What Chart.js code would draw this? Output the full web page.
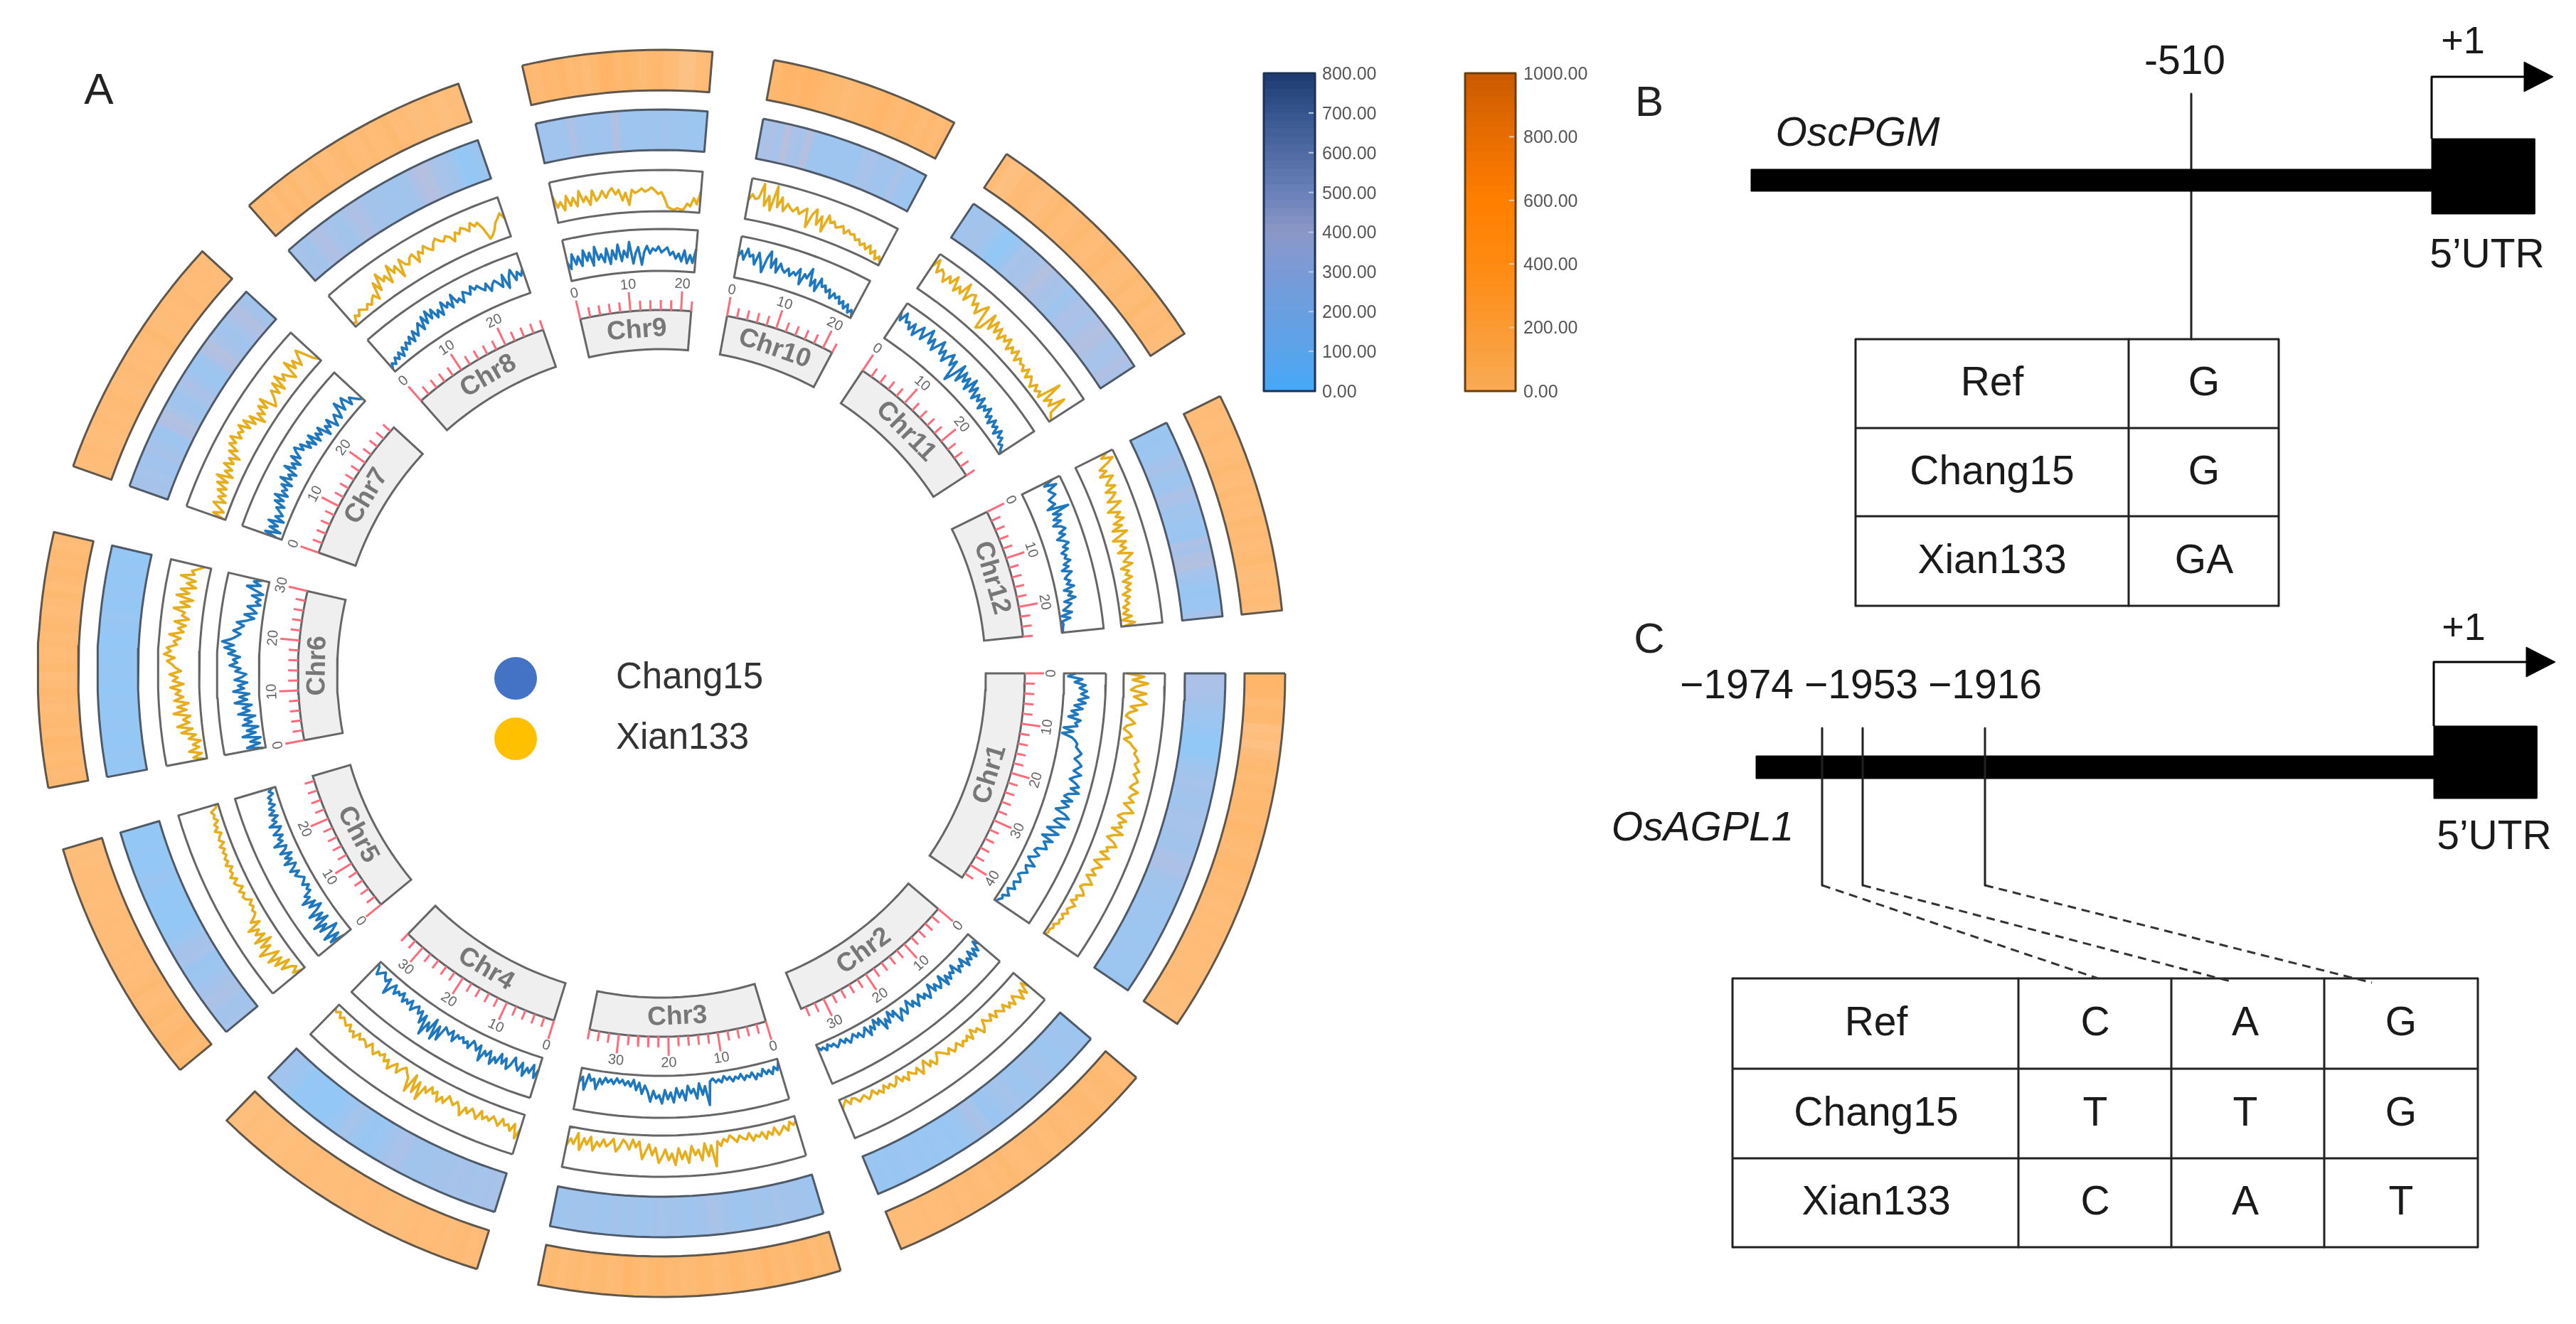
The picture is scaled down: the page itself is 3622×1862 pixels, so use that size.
<!DOCTYPE html>
<html>
<head>
<meta charset="utf-8">
<title>Circos plot and promoter variants</title>
<style>
  html, body { margin: 0; padding: 0; background: #fff; }
  canvas { display: block; }
</style>
<script src="https://cdn.jsdelivr.net/npm/chart.js@4/dist/chart.umd.min.js"></script>
</head>
<body>
<canvas id="figure" width="3622" height="1862"></canvas>
<script>
// chromosomes
const chromNames = ["Chr1","Chr2","Chr3","Chr4","Chr5","Chr6","Chr7","Chr8","Chr9","Chr10","Chr11","Chr12"];
const chromLengths = [43,35,36,34,29,30,29,28,22,22,28,26];

// line tracks, one row per chromosome, 0-100 of the track height
const chang15Track = [
  [28,10,44,26,52,38,56,42,60,36,54,28,48,22,38,16,46,34,40,8,32,6,30,40,46,44,52,60,54,46,58,66,58,50,70,56,46,62,72,54,76,52,44,66,42,62,50,34,60,72,46,40,70,48,30,62,46,26,56,36,44,50,28,24,40,32,18,28,42,22,26,34,22,16,26,30,16,20,28,12,16,24,10,14,8,5],
  [34,20,44,30,50,26,46,36,52,24,42,34,48,20,38,30,44,28,50,18,36,44,26,40,16,34,46,28,38,20,30,44,24,36,14,30,42,22,34,48,16,28,10,36,22,44,12,26,8,30,18,38,14,24,32,18,26,14,22,30,16,24,12,20,26,14,18,10,22,12,16,6],
  [8,26,16,32,20,28,14,30,22,34,16,26,20,30,14,24,18,28,16,22,12,26,18,24,14,20,76,30,50,22,58,34,44,26,60,36,52,30,64,40,56,34,66,46,54,36,62,38,24,44,18,36,12,28,16,26,14,22,12,26,16,24,14,30,18,44,20,26,12,50,20,34],
  [30,52,22,44,34,56,26,48,36,20,42,54,30,46,24,50,38,58,28,44,34,62,26,42,30,24,46,32,40,28,36,30,50,26,40,34,28,66,34,72,24,60,40,76,30,54,26,38,22,30,42,20,34,26,38,18,30,24,36,16,28,50,14,26,20,10,18,28,12,6],
  [20,56,28,64,34,18,60,38,68,24,52,30,62,36,20,48,28,58,34,44,24,30,20,34,26,20,30,38,24,44,30,22,48,26,40,20,46,30,24,52,28,36,22,42,26,18,44,24,32,16,34,20,30,14,26,18,24,10,18,8],
  [6,44,12,34,8,50,18,38,10,46,24,40,14,54,26,42,20,60,30,48,24,62,36,50,28,58,40,30,56,44,70,52,62,46,74,58,84,62,90,70,58,48,66,52,42,60,36,20,44,16,26,40,10,22,12,34,8,28,50,18,36,16],
  [14,44,8,38,20,46,10,34,18,28,40,22,50,30,56,26,44,34,52,28,62,36,48,30,66,40,54,34,64,42,58,68,46,60,34,50,28,56,24,44,30,48,14,36,24,42,12,26,36,16,30,52,22,38,48,18,34,24,14,8],
  [8,20,12,26,16,30,14,34,22,38,28,44,26,50,32,46,58,36,66,44,72,48,68,42,58,40,70,52,62,44,74,50,56,42,66,60,52,70,58,64,54,46,60,38,52,58,48,36,64,28,54,68,40,58,46,60],
  [44,28,62,36,54,30,66,40,58,26,70,38,50,30,62,24,56,34,68,28,52,36,72,20,44,58,16,46,60,42,54,48,58,44,50,56,38,46,30,42,24,50,20,40,22,56],
  [52,66,46,74,56,62,40,70,50,26,62,80,42,66,34,58,46,40,52,36,48,42,60,24,52,44,70,30,48,22,56,38,44,30,40,20,36,26,34,18,28,12,26,8,18,4],
  [76,56,80,60,66,50,70,44,62,76,48,66,84,52,70,44,62,80,50,66,40,60,72,46,64,14,36,70,30,62,40,58,30,66,36,56,28,48,34,52,24,42,32,48,26,38,20,40,24,34,16,36,20,28,12,18,8,4],
  [80,56,84,60,66,72,52,56,62,40,90,48,66,44,60,38,56,64,46,58,36,50,60,44,54,36,46,40,52,34,44,26,48,36,28,40,30,46,20,38,28,44,16,32,22,10,30,4,24,3,6,4,3,2]
];
const xian133Track = [
  [8,50,22,60,30,18,56,26,44,58,20,36,16,10,24,34,14,8,22,30,12,28,36,46,42,50,56,48,54,62,50,58,64,54,48,70,58,52,66,44,60,72,48,38,62,46,56,34,64,42,30,50,60,38,44,28,54,36,22,46,34,26,40,20,32,42,24,18,30,36,20,26,14,30,22,16,24,12,20,14,18,8,12,6,8,3],
  [48,30,56,38,60,44,34,54,40,50,32,46,38,30,44,26,40,34,24,42,50,30,36,22,44,28,38,32,42,26,34,40,24,36,28,20,14,30,38,22,34,12,26,40,18,30,24,16,34,20,28,10,24,30,18,26,14,30,20,26,12,22,28,14,18,24,12,8,20,6,14,24],
  [12,20,10,30,16,26,34,14,30,20,36,18,28,22,34,14,28,24,16,30,20,12,26,18,34,22,82,30,56,24,64,38,50,28,68,40,58,32,72,44,60,34,52,66,30,48,22,40,58,16,30,12,36,22,14,32,44,14,26,34,18,36,26,48,16,36,22,52,12,40,28,46],
  [36,62,28,48,34,40,26,46,36,28,42,34,44,26,50,38,30,46,34,58,40,30,42,34,26,48,36,52,30,40,26,46,34,72,30,62,20,68,36,28,18,26,42,22,32,46,26,36,20,30,24,38,28,18,34,26,22,30,18,36,24,30,16,26,20,14,22,10,18,12],
  [8,30,14,24,46,18,54,30,62,26,48,70,34,56,22,62,30,50,36,60,24,44,30,22,26,18,24,14,26,30,22,32,18,28,34,22,36,26,30,20,34,24,30,22,28,20,30,16,26,22,14,28,18,24,12,20,16,22,8,4],
  [6,32,10,40,14,28,8,36,18,52,24,60,30,44,26,66,34,56,28,62,40,58,46,70,38,64,52,72,44,58,66,78,60,86,70,80,56,64,48,76,42,56,38,66,32,50,44,72,34,58,28,70,40,62,26,50,30,68,36,44,28,16],
  [4,34,10,26,42,14,36,20,44,24,52,28,60,22,46,30,56,34,50,26,58,40,66,52,72,46,60,50,68,40,64,34,56,18,44,28,52,32,58,16,24,34,48,28,56,24,62,36,50,32,20,64,34,52,28,46,62,40,18,6],
  [12,6,22,14,26,20,14,24,16,26,32,16,56,30,70,44,54,30,72,46,60,26,68,50,44,58,62,36,60,50,66,54,46,60,68,58,52,62,56,40,60,52,64,58,48,66,54,60,42,12,18,28,44,52,62,46],
  [66,36,48,26,60,34,52,30,66,38,50,28,62,36,44,58,40,54,62,46,56,30,48,18,54,46,50,56,48,52,58,50,42,46,30,10,6,4,8,5,6,20,14,34,20,52],
  [46,62,52,56,92,40,66,32,94,44,70,38,58,50,44,56,42,52,60,16,50,66,30,54,18,62,46,52,40,44,50,34,46,38,42,30,36,24,32,20,34,16,28,8,20,4],
  [64,88,58,72,66,48,70,56,80,46,64,50,84,44,66,72,48,60,36,56,70,12,20,66,30,60,34,54,28,48,36,52,26,42,30,46,22,38,28,32,20,36,16,30,22,10,28,14,24,12,70,18,34,20,60,16,10,6],
  [84,66,92,74,50,64,44,74,60,50,70,42,64,54,38,68,50,30,58,44,62,34,52,26,60,40,20,50,34,46,24,58,44,32,52,22,40,30,44,20,38,24,34,14,30,18,26,10,22,8,28,4,34,6]
];

// heatmap rings, roughly one bin per Mb
const blueHeat = [
  [300,280,260,240,180,140,110,90,60,50,60,100,160,190,220,200,180,170,210,230,220,210,180,190,250,300,280,210,180,160,170,150,140,160,150,130,150,140,150,130,140,130,120],
  [130,150,170,160,140,130,160,180,200,180,150,140,170,220,190,160,120,120,230,270,180,140,100,90,100,110,90,100,90,110,100,120,90,100,90,110],
  [150,170,180,200,190,230,180,170,210,160,150,170,190,230,260,200,170,150,180,200,190,220,190,160,170,190,180,200,160,150,170,180,190,170,160,150],
  [260,240,220,230,200,240,220,200,210,190,170,180,160,200,280,250,190,140,100,90,110,180,230,150,100,70,60,70,60,80,60,110,140,170,190],
  [220,200,190,260,290,240,200,150,130,120,220,240,200,130,90,70,60,70,80,60,70,90,120,80,70,60,80,70,60,70],
  [80,70,90,80,60,70,90,80,70,90,80,60,70,80,90,70,80,70,60,80,90,100,80,70,90,80,70,80,90,70,80],
  [240,210,230,190,170,240,210,150,160,320,350,260,170,160,230,280,200,150,130,170,320,360,260,200,170,230,310,340,240,190],
  [230,210,190,300,320,250,210,180,260,320,280,210,200,180,170,160,180,190,300,380,350,260,220,190,100,60,90,120],
  [170,170,160,170,300,200,170,150,170,170,340,180,150,150,160,170,150,170,160,150,140,150,130],
  [260,300,220,400,260,240,380,160,150,150,140,160,150,150,220,250,200,170,160,260,170,150,130],
  [170,190,210,200,130,70,60,120,230,240,230,290,360,300,240,230,150,200,280,280,230,300,350,330,260,220,260,320,280],
  [110,120,110,130,200,240,180,150,170,290,250,170,180,130,110,120,300,240,330,360,220,170,110,90,100,110,240]
];
const orangeHeat = [
  [420,400,380,300,360,340,200,240,180,260,320,340,300,350,330,360,340,320,380,350,320,300,340,370,320,300,330,310,280,300,290,310,280,300,270,290,260,280,300,270,250,260,240],
  [310,290,330,350,320,300,340,360,330,300,320,340,310,290,330,320,300,280,310,340,300,320,290,310,330,300,280,320,300,270,290,310,280,260,290,270],
  [320,350,300,380,340,300,360,330,400,320,300,350,380,330,310,340,370,320,300,350,330,380,340,310,360,400,320,300,340,360,310,350,320,290,340,310],
  [300,280,320,300,260,310,290,270,300,280,260,240,280,260,300,270,250,280,260,240,270,250,280,300,260,240,280,250,230,270,250,240,260,230,250],
  [340,310,360,380,330,300,350,320,290,310,340,300,270,310,280,300,270,260,290,300,260,280,250,290,270,260,280,240,260,250],
  [340,320,360,300,340,380,310,350,330,280,320,360,300,270,340,310,290,330,300,350,320,280,310,340,290,320,360,300,330,290,310],
  [260,280,300,270,250,290,310,270,300,330,290,260,300,320,280,310,270,300,340,290,260,310,280,300,320,270,290,310,280,260],
  [300,330,280,360,300,340,260,310,350,290,270,320,340,300,280,330,290,310,350,280,300,260,240,290,250,220,270,240],
  [340,320,380,350,420,330,360,300,340,470,440,360,390,340,310,350,380,300,270,180,160,280,310],
  [340,420,470,380,500,460,380,340,350,300,330,360,340,380,410,350,320,380,340,300,360,310,350],
  [280,200,230,300,320,280,250,310,340,290,270,320,350,300,280,330,360,300,260,310,340,290,310,340,280,300,330,290,260],
  [270,300,280,260,320,290,270,310,340,300,270,330,290,310,270,340,300,320,280,310,340,290,260,310,280,300,250]
];

// colour bars
const blueBarTicks = [0,100,200,300,400,500,600,700,800];
const orangeBarTicks = [0,200,400,600,800,1000];
const blueStops = [[69,169,248],[90,163,234],[106,159,224],[122,154,214],[139,152,200],[106,128,184],[79,107,163],[54,85,142],[28,58,112]];
const orangeStops = [[249,171,85],[251,154,51],[255,138,16],[255,127,0],[232,109,0],[200,90,0]];

// panels B and C
const legendNames = ["Chang15","Xian133"];
const tableBRows = [["Ref","G"],["Chang15","G"],["Xian133","GA"]];
const tableCRows = [["Ref","C","A","G"],["Chang15","T","T","G"],["Xian133","C","A","T"]];
const siteLabelsC = ["\u22121974","\u22121953","\u22121916"];

// layout of the ring figure: angles are clockwise from 3 o'clock
const W = 3622, H = 1862;
const cx = 930, cy = 947;
const sectorStart = [0,40.4,73.3,107.2,140.5,169.4,199.4,228.6,257.1,280.4,303.6,333.6];
const sectorEnd = [34.2,67.4,101.4,134.2,163.6,193.1,222.6,251,274.7,298,327,354.2];
const rLabel = [456, 511], rTrackA = [566, 625], rTrackB = [650, 708], rHeatA = [736, 793], rHeatB = [820, 877];

const datasets = [];
const labels = [];

function polar(deg, r) {
  const a = deg * Math.PI / 180;
  return { x: cx + r * Math.cos(a), y: cy + r * Math.sin(a) };
}

function sector(a0, a1, r0, r1) {
  const pts = [];
  const steps = Math.max(1, Math.ceil((a1 - a0) / 1.5));
  for (let i = 0; i <= steps; i++) pts.push(polar(a0 + (a1 - a0) * i / steps, r1));
  for (let i = steps; i >= 0; i--) pts.push(polar(a0 + (a1 - a0) * i / steps, r0));
  pts.push(pts[0]);
  return pts;
}

function addLine(pts, color, width, order, dash) {
  datasets.push({
    data: pts, showLine: true, fill: false, pointRadius: 0, borderColor: color, borderWidth: width,
    borderDash: dash || [], borderJoinStyle: "round", order: order
  });
}

function addShape(pts, fillColor, strokeColor, width, order) {
  datasets.push({
    data: pts, showLine: true, fill: "shape", pointRadius: 0, backgroundColor: fillColor,
    borderColor: strokeColor, borderWidth: width, order: order
  });
}

function addText(text, x, y, size, color, opts) {
  labels.push(Object.assign({ text, x, y, size, color, align: "center", weight: "normal", style: "normal", rot: 0 }, opts || {}));
}

function rampColor(stops, t, alpha) {
  const p = Math.min(Math.max(t, 0), 1) * (stops.length - 1);
  const i = Math.min(Math.floor(p), stops.length - 2);
  const f = p - i;
  const c = [0, 1, 2].map(k => {
    const v = stops[i][k] + (stops[i + 1][k] - stops[i][k]) * f;
    return Math.round(255 - (255 - v) * alpha);
  });
  return "rgb(" + c.join(",") + ")";
}

function textRotation(deg) {
  const d = ((deg % 360) + 360) % 360;
  return (d < 168 ? d - 90 : d + 90);
}

// ring figure
chromNames.forEach((name, c) => {
  const len = chromLengths[c];
  const a0 = sectorStart[c], a1 = sectorEnd[c];
  const mbToDeg = mb => a0 + mb * (a1 - a0) / len;

  // heatmap bins
  [[blueHeat[c], rHeatA, blueStops, 800], [orangeHeat[c], rHeatB, orangeStops, 1000]].forEach(([vals, r, stops, max]) => {
    const step = len / vals.length;
    vals.forEach((v, i) => {
      const col = rampColor(stops, v / max, 0.62);
      addShape(sector(mbToDeg(i * step), mbToDeg((i + 1) * step), r[0], r[1]), col, col, 1, 30);
    });
  });
  addLine(sector(a0, a1, rHeatA[0], rHeatA[1]), "#4f5a68", 3, 5);
  addLine(sector(a0, a1, rHeatB[0], rHeatB[1]), "#5f564c", 3, 5);

  // line tracks
  [[chang15Track[c], rTrackA, "#1f78bd"], [xian133Track[c], rTrackB, "#e6ad1c"]].forEach(([vals, r, color]) => {
    const pts = vals.map((v, i) => polar(mbToDeg(i * len / (vals.length - 1)), r[0] + (r[1] - r[0]) * v / 100));
    addLine(pts, color, 3.5, 10);
    addLine(sector(a0, a1, r[0], r[1]), "#666666", 3, 5);
  });

  // chromosome block and name
  addShape(sector(a0, a1, rLabel[0], rLabel[1]), "#efefef", "#666666", 3, 20);
  const mid = (a0 + a1) / 2;
  const lp = polar(mid, (rLabel[0] + rLabel[1]) / 2);
  addText(name, lp.x, lp.y, 37, "#777777", { weight: "bold", rot: textRotation(mid) });

  // ruler
  const tickPts = [];
  for (let mb = 0; mb <= len; mb += 2) {
    const major = mb % 10 === 0;
    tickPts.push(polar(mbToDeg(mb), rLabel[1]), polar(mbToDeg(mb), rLabel[1] + (major ? 27 : 14)), { x: NaN, y: NaN });
    if (major) {
      const tp = polar(mbToDeg(mb), rLabel[1] + 37);
      addText(String(mb), tp.x, tp.y, 20, "#666666", { rot: textRotation(mbToDeg(mb)) });
    }
  }
  addLine(tickPts, "#ff6b7a", 3, 8);
});

// legend dots in the middle of the rings
[["#4472c4", 954], ["#ffc000", 1039]].forEach(([color, y], i) => {
  datasets.push({ data: [{ x: 725, y: y }], pointRadius: 30, pointBackgroundColor: color, pointBorderWidth: 0, order: 1 });
  addText(legendNames[i], 866, y, 51, "#333333", { align: "left" });
});

// colour bars
function colorBar(ticks, stops, max, x0, x1, textX, edge, mark) {
  const barY = v => 550 - v / max * 447;
  const cells = 40;
  for (let i = 0; i < cells; i++) {
    const col = rampColor(stops, (i + 0.5) / cells, 1);
    const v0 = i / cells * max, v1 = (i + 1) / cells * max;
    addShape([{ x: x0, y: barY(v0) }, { x: x1, y: barY(v0) }, { x: x1, y: barY(v1) }, { x: x0, y: barY(v1) }, { x: x0, y: barY(v0) }], col, col, 1, 30);
  }
  addLine([{ x: x0, y: barY(0) }, { x: x1, y: barY(0) }, { x: x1, y: barY(max) }, { x: x0, y: barY(max) }, { x: x0, y: barY(0) }], edge, 3, 5);
  ticks.forEach(t => {
    if (t > 0 && t < max) addLine([{ x: x1 - 9, y: barY(t) }, { x: x1 - 2, y: barY(t) }], mark, 2, 4);
    addText(t.toFixed(2), textX, barY(t) + 2, 25, "#555555", { align: "left" });
  });
}
colorBar(blueBarTicks, blueStops, 800, 1777, 1849, 1859, "#1d3154", "#b9c8e4");
colorBar(orangeBarTicks, orangeStops, 1000, 2060, 2131, 2142, "#6e3d0c", "#f8c89a");

// rectangles for the gene drawings and cell rules for the tables
function rect(x0, y0, x1, y1) {
  return [{ x: x0, y: y0 }, { x: x1, y: y0 }, { x: x1, y: y1 }, { x: x0, y: y1 }, { x: x0, y: y0 }];
}

function geneModel(barX, barY0, barY1, boxX0, boxX1, boxY0, boxY1, arrowY, arrowX, tipX) {
  addShape(rect(barX, barY0, boxX0, barY1), "#000", "#000", 1, 6);
  addShape(rect(boxX0, boxY0, boxX1, boxY1), "#000", "#000", 1, 6);
  addLine([{ x: boxX0, y: boxY0 }, { x: boxX0, y: arrowY }, { x: arrowX, y: arrowY }], "#000", 3, 6);
  addShape([{ x: arrowX, y: arrowY - 21 }, { x: tipX, y: arrowY }, { x: arrowX, y: arrowY + 21 }, { x: arrowX, y: arrowY - 21 }], "#000", "#000", 1, 6);
}

function table(rows, colX, rowY, textX) {
  colX.forEach(x => addLine([{ x: x, y: rowY[0] }, { x: x, y: rowY[rowY.length - 1] }], "#222", 3, 6));
  rowY.forEach(y => addLine([{ x: colX[0], y: y }, { x: colX[colX.length - 1], y: y }], "#222", 3, 6));
  rows.forEach((row, r) => row.forEach((t, c) => addText(t, textX[c], (rowY[r] + rowY[r + 1]) / 2 + 1, 57, "#1a1a1a")));
}

// panel B
geneModel(2462, 238, 269, 3419, 3564, 195, 301, 108, 3549, 3590);
addLine([{ x: 3081, y: 132 }, { x: 3081, y: 477 }], "#222", 3, 6);
table(tableBRows, [2609, 2993, 3204], [477, 602, 726, 852], [2801, 3099]);
addText("-510", 3072, 88, 57, "#1a1a1a");
addText("+1", 3463, 60, 54, "#1a1a1a");
addText("OscPGM", 2612, 189, 57, "#1a1a1a", { style: "italic" });
addText("5\u2019UTR", 3497, 360, 57, "#1a1a1a");

// panel C
geneModel(2469, 1063, 1095, 3422, 3567, 1021, 1123, 931, 3552, 3593);
const siteX = [2562, 2619, 2791];
const dropX = [2950, 3136, 3335];
const dropY = [1376, 1380, 1382];
siteX.forEach((x, i) => {
  addLine([{ x: x, y: 1024 }, { x: x, y: 1245 }], "#222", 3, 4);
  addLine([{ x: x, y: 1245 }, { x: dropX[i], y: dropY[i] }], "#333", 3, 4, [12, 8]);
});
table(tableCRows, [2436, 2838, 3053, 3268, 3484], [1376, 1503, 1629, 1754], [2638, 2946, 3157, 3376]);
[2442, 2617, 2791].forEach((x, i) => addText(siteLabelsC[i], x, 966, 57, "#1a1a1a"));
addText("+1", 3464, 885, 54, "#1a1a1a");
addText("OsAGPL1", 2394, 1166, 57, "#1a1a1a", { style: "italic" });
addText("5\u2019UTR", 3507, 1178, 57, "#1a1a1a");

// panel letters
addText("A", 139, 129, 62, "#222222");
addText("B", 2319, 146, 60, "#222222");
addText("C", 2319, 901, 60, "#222222");

const figureText = {
  id: "figureText",
  afterDatasetsDraw(chart) {
    const { ctx, scales } = chart;
    ctx.save();
    ctx.textBaseline = "middle";
    labels.forEach(l => {
      ctx.save();
      ctx.translate(scales.x.getPixelForValue(l.x), scales.y.getPixelForValue(l.y));
      ctx.rotate(l.rot * Math.PI / 180);
      ctx.font = l.style + " " + l.weight + " " + l.size + "px 'Liberation Sans', Arial, sans-serif";
      ctx.fillStyle = l.color;
      ctx.textAlign = l.align;
      ctx.fillText(l.text, 0, 0);
      ctx.restore();
    });
    ctx.restore();
  }
};

new Chart(document.getElementById("figure"), {
  type: "scatter",
  data: { datasets: datasets },
  options: {
    responsive: false,
    animation: false,
    devicePixelRatio: 1,
    events: [],
    layout: { padding: 0, autoPadding: false },
    plugins: { legend: { display: false }, tooltip: { enabled: false } },
    scales: {
      x: { type: "linear", min: 0, max: W, display: false },
      y: { type: "linear", min: 0, max: H, reverse: true, display: false }
    }
  },
  plugins: [figureText]
});
</script>
</body>
</html>
